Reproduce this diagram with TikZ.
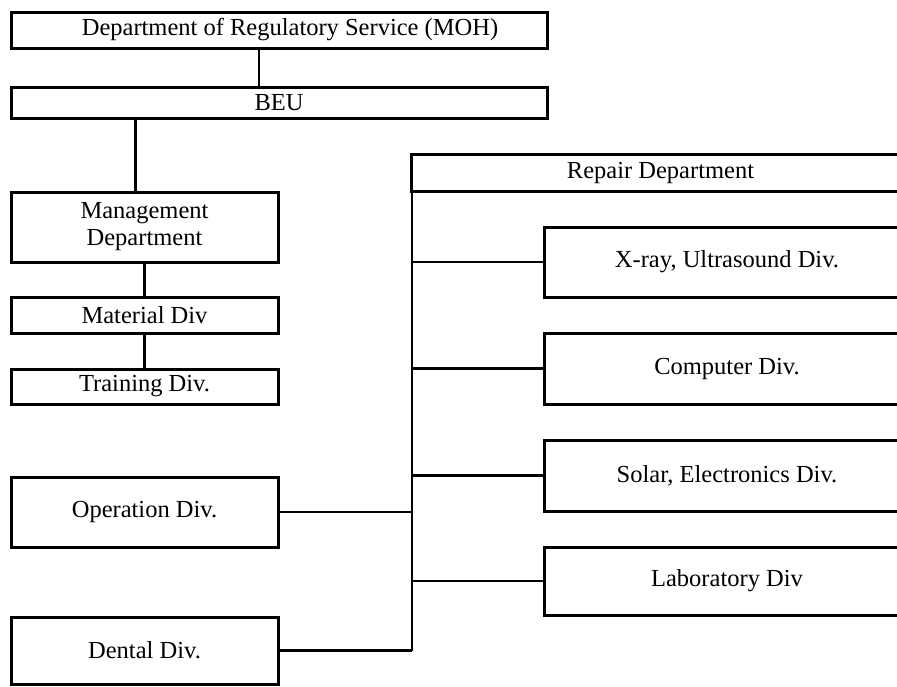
\documentclass[tikz,border=0pt]{standalone}
\usepackage{fontspec}
\setmainfont{Liberation Serif}
\begin{document}
\begin{tikzpicture}[x=1pt,y=-1pt,
  box/.style={draw=black,line width=3pt,rectangle,inner sep=0pt,align=center,
    font=\fontsize{24.5}{27}\selectfont,fill=white},
  link/.style={draw=black,line width=2.2pt}]
\clip (0,0) rectangle (897,686);
\fill[white] (0,0) rectangle (897,686);
% left column
\node[box,minimum width=536pt,minimum height=36pt] (moh) at (279,30) {\hspace*{22pt}Department of Regulatory Service (MOH)};
\node[box,minimum width=536pt,minimum height=31pt] (beu) at (279,102.5) {BEU};
\node[box,minimum width=267pt,minimum height=70pt] (mgmt) at (144.5,227) {Management\\Department};
\node[box,minimum width=267pt,minimum height=36pt] (mat) at (144.5,315) {Material Div};
\node[box,minimum width=267pt,minimum height=35pt] (train) at (144.5,386.5) {Training Div.};
\node[box,minimum width=267pt,minimum height=70pt] (oper) at (144.5,512) {Operation Div.};
\node[box,minimum width=267pt,minimum height=67pt] (dental) at (144.5,650.5) {Dental Div.};
% right column
\node[box,minimum width=499pt,minimum height=37pt] (repair) at (660.5,172.5) {Repair Department};
\node[box,minimum width=366pt,minimum height=70pt] (xray) at (727,262) {X-ray, Ultrasound Div.};
\node[box,minimum width=366pt,minimum height=71pt] (comp) at (727,368.5) {Computer Div.};
\node[box,minimum width=366pt,minimum height=71pt] (solar) at (727,475.5) {Solar, Electronics Div.};
\node[box,minimum width=366pt,minimum height=68pt] (lab) at (727,581) {Laboratory Div};
% connectors
\coordinate (c1) at (259,0);
\coordinate (c2) at (135,0);
\coordinate (sp) at (412,0);
\draw[link] (moh.south -| c1) -- (beu.north -| c1);
\draw[link,line width=3pt] (beu.south -| c2) -- (mgmt.north -| c2);
\draw[link] (mgmt.south) -- (mat.north);
\draw[link] (mat.south) -- (train.north);
\draw[link] (repair.south -| sp) -- (dental.east -| sp);
\draw[link] (xray.west) -- (xray.west -| sp);
\draw[link] (comp.west) -- (comp.west -| sp);
\draw[link] (solar.west) -- (solar.west -| sp);
\draw[link] (lab.west) -- (lab.west -| sp);
\draw[link] (oper.east) -- (oper.east -| sp);
\draw[link] (dental.east) -- (dental.east -| sp);
\end{tikzpicture}
\end{document}
